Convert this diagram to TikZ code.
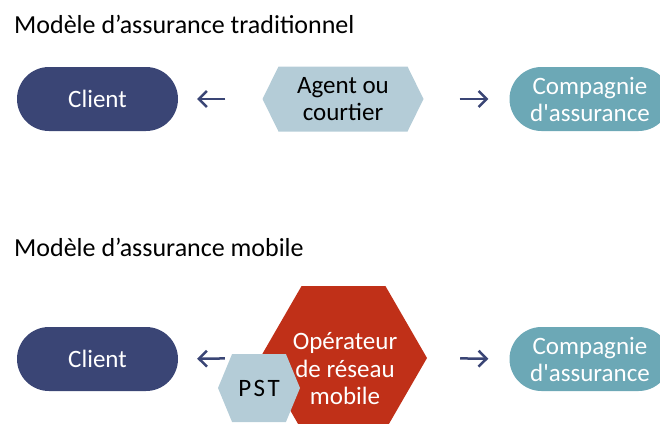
\documentclass[tikz,border=0pt]{standalone}
\usepackage{fontspec}
\setmainfont{Carlito}
\usetikzlibrary{shapes.misc,shapes.symbols,arrows.meta}
\definecolor{navyblue}{HTML}{3A4575}
\definecolor{tealblue}{HTML}{6CA8B6}
\definecolor{paleblue}{HTML}{B4CCD7}
\definecolor{mnored}{HTML}{C03018}
\tikzset{
  title/.style={anchor=base west,inner sep=0pt,font=\fontsize{26}{28}\selectfont},
  pill/.style={rounded rectangle,fill=#1,text=white,minimum width=161pt,minimum height=64pt,inner sep=0pt,align=center,font=\fontsize{25}{27}\selectfont},
  hexbox/.style={signal,signal to=east and west,fill=#1,inner sep=0pt,align=center,font=\fontsize{25}{27}\selectfont},
  flow/.style={navyblue,line width=2.5pt,-{Straight Barb[length=8pt,width=16pt,line width=2.5pt]}}
}
\begin{document}
\begin{tikzpicture}[x=1pt,y=-1pt]
\useasboundingbox (0,0) rectangle (660,423);
\clip (0,0) rectangle (660,423);
\node[title] (t1) at (14,33) {Modèle d’assurance traditionnel};
\node[title] (t2) at (14,256) {Modèle d’assurance mobile};

\node[pill=navyblue] (c1) at (97.5,99) {Client};
\node[hexbox=paleblue,signal pointer angle=127.6,minimum width=161pt,minimum height=65pt] (ag) at (343,99) {Agent ou\\courtier};
\node[pill=tealblue] (ins1) at (590,99) {Compagnie\\d\textquotesingle assurance};

\node[pill=navyblue] (c2) at (97.5,359) {Client};
\node[hexbox=mnored,signal pointer angle=120,minimum width=167pt,minimum height=144pt] (mno) at (343.5,358) {};
\node[text=white,align=center,inner sep=0pt,font=\fontsize{25}{27.5}\selectfont] (mnotxt) at (345,369) {Opérateur\\de réseau\\mobile};
\node[hexbox=paleblue,signal pointer angle=135,minimum width=82pt,minimum height=68pt] (pst) at (259,388) {\addfontfeatures{LetterSpace=10}PST};
\node[pill=tealblue] (ins2) at (590,359) {Compagnie\\d\textquotesingle assurance};

\draw[flow,shorten <=37pt,shorten >=19pt] (ag.west) -- (c1.east);
\draw[flow,shorten <=36pt,shorten >=21pt] (ag.east) -- (ins1.west);
\draw[flow,shorten <=35pt,shorten >=19pt] (mno.west) -- (c2.east);
\draw[flow,shorten <=33pt,shorten >=21pt] (mno.east) -- (ins2.west);
\end{tikzpicture}
\end{document}
